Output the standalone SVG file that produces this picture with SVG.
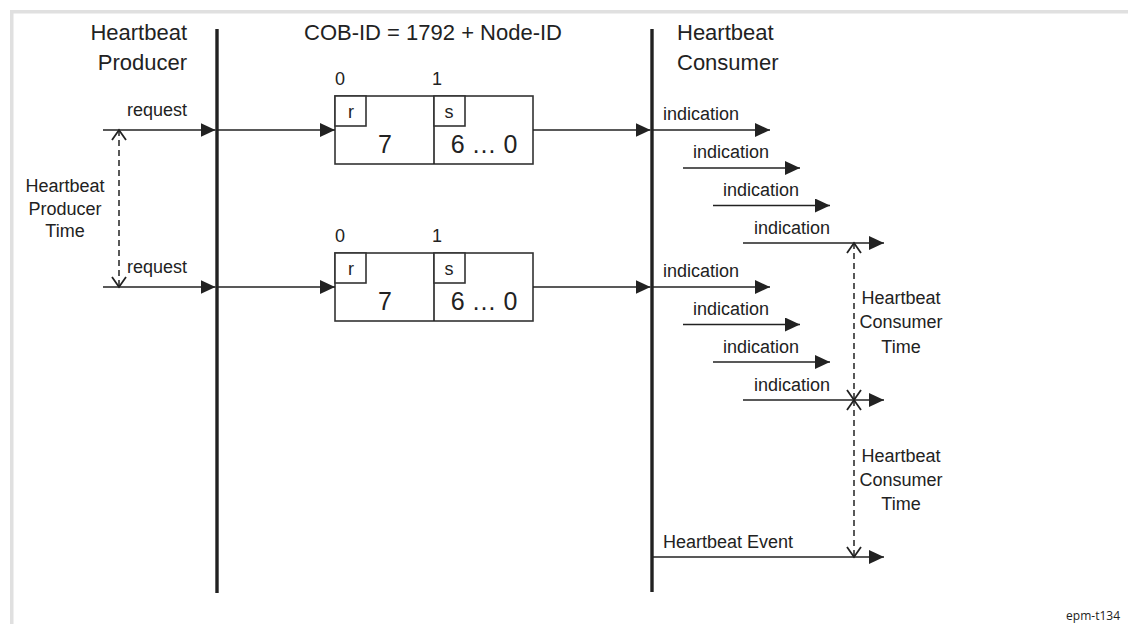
<svg xmlns="http://www.w3.org/2000/svg" width="1128" height="624" viewBox="0 0 1128 624">
<defs>
<style>
.t{font-family:"Liberation Sans",Arial,sans-serif;fill:#222}
.title{font-size:22px}
.lab{font-size:18px}
.big{font-size:25px}
.ln{stroke:#222;stroke-width:1.6;fill:none}
.life{stroke:#222;stroke-width:3.4;fill:none}
.dash{stroke:#222;stroke-width:1.5;fill:none;stroke-dasharray:6 4}
.box{stroke:#333;stroke-width:1.6;fill:#fff}
.a{marker-end:url(#arr)}
.v{marker-start:url(#vee);marker-end:url(#vee)}
</style>
<marker id="arr" markerUnits="userSpaceOnUse" viewBox="0 0 15 14" refX="15" refY="7" markerWidth="15" markerHeight="14" orient="auto">
<path d="M0,0 L15,7 L0,14 Z" fill="#222"/>
</marker>
<marker id="vee" markerUnits="userSpaceOnUse" viewBox="-1 -1 13 16" refX="10" refY="7" markerWidth="13" markerHeight="16" orient="auto-start-reverse">
<path d="M0,0 L10,7 L0,14" fill="none" stroke="#222" stroke-width="1.8" stroke-dasharray="none"/>
</marker>
</defs>
<rect width="1128" height="624" fill="#fff"/>
<g id="frame" fill="#e0e0e0">
<rect x="10" y="10" width="1118" height="3.5"/>
<rect x="10" y="10" width="3.5" height="614"/>
</g>
<g id="producer">
<line class="life" x1="217" y1="29" x2="217" y2="593"/>
<text class="t title" x="187" y="40" text-anchor="end">Heartbeat</text>
<text class="t title" x="187" y="70" text-anchor="end">Producer</text>
</g>
<g id="consumer">
<line class="life" x1="652" y1="29" x2="652" y2="592"/>
<text class="t title" x="677" y="40">Heartbeat</text>
<text class="t title" x="677" y="70">Consumer</text>
</g>
<g id="cobid">
<text class="t title" x="304" y="40">COB-ID = 1792 + Node-ID</text>
</g>
<g id="frame1">
<text class="t lab" x="340" y="85" text-anchor="middle">0</text>
<text class="t lab" x="437" y="85" text-anchor="middle">1</text>
<rect class="box" x="335" y="96" width="198" height="68"/>
<line class="ln" x1="434" y1="96" x2="434" y2="164"/>
<rect class="box" x="335" y="96" width="31" height="30"/>
<rect class="box" x="434" y="96" width="31" height="30"/>
<text class="t lab" x="351" y="118" text-anchor="middle">r</text>
<text class="t lab" x="449" y="118" text-anchor="middle">s</text>
<text class="t big" x="385" y="153" text-anchor="middle">7</text>
<text class="t big" x="484" y="153" text-anchor="middle">6 … 0</text>
</g>
<g id="frame2">
<text class="t lab" x="340" y="242" text-anchor="middle">0</text>
<text class="t lab" x="437" y="242" text-anchor="middle">1</text>
<rect class="box" x="335" y="253" width="198" height="68"/>
<line class="ln" x1="434" y1="253" x2="434" y2="321"/>
<rect class="box" x="335" y="253" width="31" height="30"/>
<rect class="box" x="434" y="253" width="31" height="30"/>
<text class="t lab" x="351" y="275" text-anchor="middle">r</text>
<text class="t lab" x="449" y="275" text-anchor="middle">s</text>
<text class="t big" x="385" y="310" text-anchor="middle">7</text>
<text class="t big" x="484" y="310" text-anchor="middle">6 … 0</text>
</g>
<g id="connectors">
<line class="ln a" x1="103" y1="130" x2="215.5" y2="130"/>
<line class="ln a" x1="218" y1="130" x2="335" y2="130"/>
<line class="ln a" x1="533" y1="130" x2="650.5" y2="130"/>
<line class="ln a" x1="103" y1="287" x2="215.5" y2="287"/>
<line class="ln a" x1="218" y1="287" x2="335" y2="287"/>
<line class="ln a" x1="533" y1="287" x2="650.5" y2="287"/>
<line class="ln a" x1="653" y1="130" x2="770" y2="130"/>
<line class="ln a" x1="683" y1="168" x2="800" y2="168"/>
<line class="ln a" x1="713" y1="205.5" x2="830" y2="205.5"/>
<line class="ln a" x1="743" y1="243" x2="884" y2="243"/>
<line class="ln a" x1="653" y1="287" x2="770" y2="287"/>
<line class="ln a" x1="683" y1="324.5" x2="800" y2="324.5"/>
<line class="ln a" x1="713" y1="362" x2="830" y2="362"/>
<line class="ln a" x1="743" y1="400" x2="884" y2="400"/>
<line class="ln a" x1="653" y1="557" x2="884" y2="557"/>
<line class="dash v" x1="119" y1="130" x2="119" y2="287"/>
<line class="dash v" x1="854" y1="243" x2="854" y2="400"/>
<line class="dash v" x1="854" y1="400" x2="854" y2="557"/>
</g>
<g id="labels">
<text class="t lab" x="187" y="116" text-anchor="end">request</text>
<text class="t lab" x="187" y="273" text-anchor="end">request</text>
<text class="t lab" x="65" y="192" text-anchor="middle">Heartbeat</text>
<text class="t lab" x="65" y="215" text-anchor="middle">Producer</text>
<text class="t lab" x="65" y="237" text-anchor="middle">Time</text>
<text class="t lab" x="663" y="120">indication</text>
<text class="t lab" x="693" y="158">indication</text>
<text class="t lab" x="723" y="196">indication</text>
<text class="t lab" x="754" y="234">indication</text>
<text class="t lab" x="663" y="277">indication</text>
<text class="t lab" x="693" y="315">indication</text>
<text class="t lab" x="723" y="353">indication</text>
<text class="t lab" x="754" y="391">indication</text>
<text class="t lab" x="901" y="304" text-anchor="middle">Heartbeat</text>
<text class="t lab" x="901" y="328" text-anchor="middle">Consumer</text>
<text class="t lab" x="901" y="353" text-anchor="middle">Time</text>
<text class="t lab" x="901" y="462" text-anchor="middle">Heartbeat</text>
<text class="t lab" x="901" y="486" text-anchor="middle">Consumer</text>
<text class="t lab" x="901" y="510" text-anchor="middle">Time</text>
<text class="t lab" x="663" y="548">Heartbeat Event</text>
<text x="1120" y="620" text-anchor="end" font-family="'Open Sans',sans-serif" font-size="12" fill="#222">epm-t134</text>
</g>
</svg>
